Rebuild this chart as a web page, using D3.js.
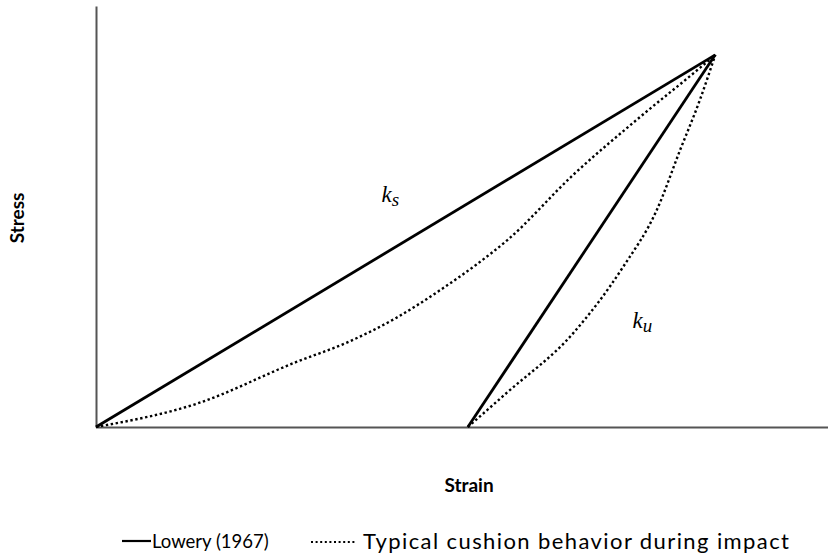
<!DOCTYPE html>
<html>
<head>
<meta charset="utf-8">
<script src="https://cdn.jsdelivr.net/npm/d3@7"></script>
<style>
  body { margin: 0; background: #fff; }
  svg { display: block; }
  .axis path { stroke: #555; stroke-width: 2; }
  .title { font-family: Lato, sans-serif; font-weight: bold; font-size: 19px; fill: #000; }
  .legend text { font-family: Lato, sans-serif; fill: #000; }
  .k { font-family: 'Liberation Serif', serif; font-style: italic; fill: #000; }
</style>
</head>
<body>
<svg id="chart" width="828" height="558"></svg>
<script>
// Lowery (1967) linear model: loading to peak, then unloading line
const loweryLoad = [[0, 0], [84.6, 88.4]];
const loweryUnload = [[50.8, 0], [84.6, 88.4]];

// typical cushion behaviour during impact
const cushionLoad = [
  [0, 0], [13.7, 5.5], [27.3, 15.4], [34.2, 20.0], [41.0, 25.9],
  [47.0, 32.5], [51.9, 38.5], [56.2, 44.4], [65.2, 59.9], [74.3, 73.6],
  [82.5, 85.3], [84.6, 88.4]
];
const cushionUnload = [
  [50.8, 0], [56.1, 8.1], [65.2, 22.3], [72.0, 38.0], [76.6, 51.5],
  [79.8, 65.8], [82.5, 77.7], [84.6, 88.4]
];

const stiffnessLabels = [
  { name: 'k', sub: 's', at: [39.0, 53.4] },
  { name: 'k', sub: 'u', at: [73.3, 23.5] }
];

const legendItems = ['Lowery (1967)', 'Typical cushion behavior during impact'];

const svg = d3.select('#chart');

const x = d3.scaleLinear().domain([0, 100]).range([96, 828]);
const y = d3.scaleLinear().domain([0, 100]).range([427, 6]);

svg.append('g')
  .attr('class', 'axis')
  .attr('transform', `translate(0, ${y(0)})`)
  .call(d3.axisBottom(x).ticks(0).tickSizeOuter(0));

svg.append('g')
  .attr('class', 'axis')
  .attr('transform', `translate(${x(0)}, 0)`)
  .call(d3.axisLeft(y).ticks(0).tickSizeOuter(0));

const line = d3.line().x(d => x(d[0])).y(d => y(d[1]));
const smooth = d3.line().x(d => x(d[0])).y(d => y(d[1])).curve(d3.curveMonotoneX);

[cushionLoad, cushionUnload].forEach((pts) => {
  svg.append('path')
    .attr('d', smooth(pts))
    .attr('fill', 'none')
    .attr('stroke', '#000')
    .attr('stroke-width', 2.4)
    .attr('stroke-dasharray', '2.4 2.6');
});

[loweryLoad, loweryUnload].forEach((pts) => {
  svg.append('path')
    .attr('d', line(pts))
    .attr('fill', 'none')
    .attr('stroke', '#000')
    .attr('stroke-width', 2.8);
});

stiffnessLabels.forEach((d) => {
  const t = svg.append('text')
    .attr('class', 'k')
    .attr('x', x(d.at[0]))
    .attr('y', y(d.at[1]))
    .style('font-size', '23px')
    .text(d.name);
  t.append('tspan')
    .attr('dy', 4)
    .style('font-size', '19px')
    .text(d.sub);
});

// axis titles
svg.append('text')
  .attr('class', 'title')
  .attr('text-anchor', 'middle')
  .attr('transform', 'translate(24, 218) rotate(-90)')
  .text('Stress');

svg.append('text')
  .attr('class', 'title')
  .attr('text-anchor', 'middle')
  .attr('x', 469)
  .attr('y', 492)
  .text('Strain');

// legend
const legend = svg.append('g').attr('class', 'legend');

legend.append('line')
  .attr('x1', 122).attr('x2', 151)
  .attr('y1', 541).attr('y2', 541)
  .attr('stroke', '#000').attr('stroke-width', 2.2);

legend.append('text')
  .attr('x', 152).attr('y', 548)
  .style('font-size', '18.5px')
  .text(legendItems[0]);

legend.append('line')
  .attr('x1', 311).attr('x2', 357)
  .attr('y1', 542).attr('y2', 542)
  .attr('stroke', '#000').attr('stroke-width', 2)
  .attr('stroke-dasharray', '2 2.6');

legend.append('text')
  .attr('x', 363).attr('y', 549)
  .style('font-size', '22px')
  .attr('textLength', 426)
  .attr('lengthAdjust', 'spacing')
  .text(legendItems[1]);
</script>
</body>
</html>
